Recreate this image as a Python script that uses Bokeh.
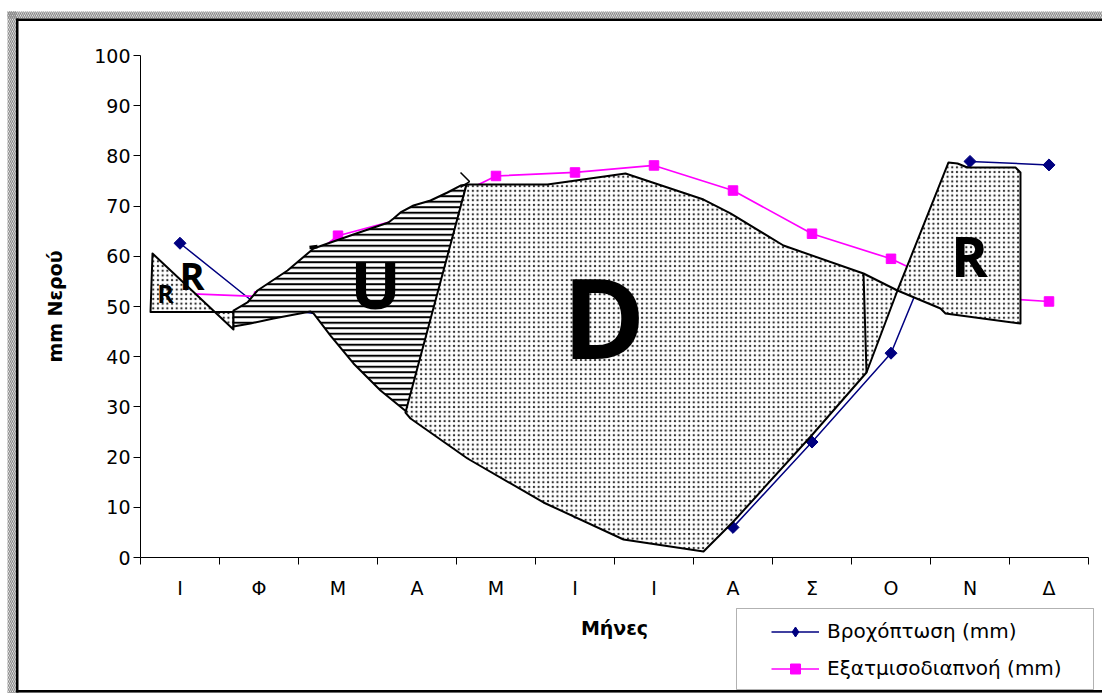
import math

from bokeh.plotting import figure
from bokeh.models import (Range1d, FixedTicker, BoxAnnotation, Legend,
                          LegendItem, Label)
from bokeh.embed import file_html
from bokeh.resources import INLINE

# Monthly water balance
months = ["Ι", "Φ", "Μ", "Α", "Μ", "Ι", "Ι", "Α", "Σ", "Ο", "Ν", "Δ"]
rain_mm = [62.6, 50.0, 48.0, 30.0, 18.0, 9.0, 4.0, 6.0, 23.0, 40.7, 78.9, 78.2]
evapo_mm = [52.6, 52.0, 64.1, 68.3, 76.0, 76.7, 78.1, 73.1, 64.5, 59.5, 52.0, 51.0]
y_ticks = list(range(0, 101, 10))

# Water-balance zones: x in months counted from the start of January, y in mm
r_left_x = [0.152, 0.127, 1.177, 1.177]
r_left_y = [60.56, 48.90, 48.90, 45.42]

u_x = [1.177, 1.354, 1.481, 1.861, 2.190, 2.658, 3.139, 3.203, 3.291, 3.456,
       3.671, 3.886, 4.051, 4.127, 3.380, 3.038, 2.696, 2.405, 2.190, 2.152,
       1.684, 1.392, 1.177]
u_y = [49.20, 50.80, 53.19, 57.17, 61.55, 64.14, 66.73, 67.53, 68.73, 70.12,
       71.12, 72.71, 74.10, 74.30, 28.88, 33.27, 38.65, 44.22, 48.61, 49.00,
       47.61, 46.61, 46.02]

d_x = [4.127, 5.152, 6.139, 7.127, 7.468, 8.139, 9.152, 9.582, 9.190, 8.506,
       7.506, 7.127, 6.114, 5.101, 4.139, 3.418, 3.354]
d_y = [74.30, 74.30, 76.49, 71.31, 68.53, 62.15, 56.57, 53.19, 36.85, 24.50,
       7.17, 1.20, 3.59, 10.96, 19.72, 27.69, 28.88]

r_right_x = [10.228, 10.342, 10.468, 11.076, 11.139, 11.139, 10.190, 10.127, 9.582]
r_right_y = [78.69, 78.49, 77.69, 77.69, 76.69, 46.61, 48.61, 49.60, 53.19]

d_split_x = [9.152, 9.190]
d_split_y = [56.57, 36.85]

arrow_x = [4.051, 4.165, 4.051]
arrow_y = [76.69, 74.90, 73.71]

nick_x = [2.139, 2.241]
nick_y = [61.75, 61.95]

zone_labels = ["R", "R", "U", "D", "R"]
zone_label_x = [0.316, 0.652, 2.975, 5.867, 10.494]
zone_label_y = [52.6, 56.2, 54.6, 48.2, 60.3]
zone_label_size = ["25px", "38px", "67px", "112px", "56px"]

W, H = 1102, 693
AXIS_FONT = "DejaVu Sans"

# The frame spans the whole canvas; the axes sit at fixed data locations.
PX_X = 79.0     # pixels per month
PX_Y = 5.02     # pixels per mm
LEFT, RIGHT, TOP, BOTTOM = 140, 14, 55, 136

p = figure(width=W, height=H, output_backend="svg", toolbar_location=None,
           x_range=Range1d(-LEFT / PX_X, 12 + RIGHT / PX_X),
           y_range=Range1d(-BOTTOM / PX_Y, 100 + TOP / PX_Y),
           min_border=0,
           background_fill_color="white", border_fill_color="white")
p.outline_line_color = None
p.grid.visible = False


def canvas_box(left, right, top, bottom, level="underlay", **style):
    return BoxAnnotation(left=left, right=right, top=top, bottom=bottom,
                         left_units="canvas", right_units="canvas",
                         top_units="canvas", bottom_units="canvas",
                         line_alpha=0, level=level, **style)


# chart-area frame: hatched grey band outside a black edge
band = dict(fill_alpha=0, hatch_pattern="left_diagonal_line", hatch_scale=4,
            hatch_weight=1.3, hatch_color="#8a8a8a")
edge = dict(fill_color="black", fill_alpha=1)
p.add_layout(canvas_box(7, W, 11, 18, **band))
p.add_layout(canvas_box(7, 16, 11, H, **band))
p.add_layout(canvas_box(7, W, 692, H, **band))
p.add_layout(canvas_box(16, W, 18, 20.5, **edge))
p.add_layout(canvas_box(15.5, 18, 18, 692, **edge))
p.add_layout(canvas_box(16, W, 689.5, 692, **edge))

# axes
mid = [i + 0.5 for i in range(12)]
xax = p.xaxis[0]
xax.fixed_location = 0
xax.bounds = (0, 12)
xax.ticker = FixedTicker(ticks=mid, minor_ticks=list(range(13)))
xax.major_label_overrides = {m: lab for m, lab in zip(mid, months)}
xax.major_tick_out = 0
xax.major_tick_in = 0
xax.minor_tick_out = 7
xax.minor_tick_in = 0
xax.major_label_standoff = 12
xax.axis_label = "Μήνες"
xax.axis_label_standoff = 15

yax = p.yaxis[0]
yax.fixed_location = 0
yax.bounds = (0, 100)
yax.ticker = FixedTicker(ticks=y_ticks)
yax.major_tick_out = 7
yax.major_tick_in = 0
yax.minor_tick_out = 0
yax.minor_tick_in = 0
yax.major_label_standoff = 3
yax.axis_label = "mm Νερού"
yax.axis_label_standoff = 25

for ax in (xax, yax):
    ax.axis_line_color = "black"
    ax.axis_line_width = 1
    ax.major_tick_line_color = "black"
    ax.minor_tick_line_color = "black"
    ax.major_label_text_font = AXIS_FONT
    ax.major_label_text_font_size = "19px"
    ax.major_label_text_color = "black"
    ax.axis_label_text_font = AXIS_FONT
    ax.axis_label_text_font_size = "19px"
    ax.axis_label_text_font_style = "bold"
    ax.axis_label_text_color = "black"

# series
rain_line = p.line(mid, rain_mm, line_color="#000080", line_width=1.5)
rain_pts = p.scatter(mid, rain_mm, marker="square", angle=math.pi / 4,
                     size=8.5, fill_color="#000080", line_color="#000080")
evapo_line = p.line(mid, evapo_mm, line_color="#ff00ff", line_width=1.7)
evapo_pts = p.scatter(mid, evapo_mm, marker="square", size=9.5,
                      fill_color="#ff00ff", line_color="#ff00ff")
# diamond swatch for the legend (legend markers are drawn unrotated);
# zero size, so it adds nothing to the plot itself
rain_key = p.scatter(mid, rain_mm, marker="diamond", size=0,
                     fill_color="#000080", line_color="#000080")

# zones drawn over the series
dots = dict(fill_color="white", hatch_pattern="dot", hatch_scale=4.7,
            hatch_color="#333333", hatch_weight=1,
            line_color="black", line_width=2, line_join="round")
p.patch(r_left_x, r_left_y, **dots)
p.patch(u_x, u_y, fill_color="white", hatch_pattern="horizontal_line",
        hatch_scale=5.5, hatch_weight=2, hatch_color="black",
        line_color="black", line_width=2, line_join="round")
p.patch(d_x, d_y, **dots)
p.patch(r_right_x, r_right_y, **dots)
p.line(d_split_x, d_split_y, line_color="black", line_width=2)
p.line(arrow_x, arrow_y, line_color="black", line_width=1.5)
p.line(nick_x, nick_y, line_color="black", line_width=3.5)

for lab, lx, ly, fs in zip(zone_labels, zone_label_x, zone_label_y, zone_label_size):
    p.add_layout(Label(x=lx, y=ly, text=lab, text_align="center",
                       text_baseline="middle", text_font="Open Sans",
                       text_font_style="bold", text_font_size=fs,
                       text_color="black"))

# keep the strip right of the legend box clean
p.add_layout(canvas_box(1094.5, W + 5, 21, 689, level="overlay",
                        fill_color="white", fill_alpha=1))

# legend box and legend
p.add_layout(BoxAnnotation(left=736, right=1093, top=608, bottom=689,
                           left_units="canvas", right_units="canvas",
                           top_units="canvas", bottom_units="canvas",
                           fill_color="white", fill_alpha=1,
                           line_color="black", line_width=1))
legend = Legend(items=[LegendItem(label="Βροχόπτωση (mm)", renderers=[rain_line, rain_key]),
                       LegendItem(label="Εξατμισοδιαπνοή (mm)", renderers=[evapo_line, evapo_pts])],
                location=(771, H - 680.5), padding=0, margin=0,
                border_line_alpha=0, background_fill_alpha=0,
                glyph_width=48, glyph_height=25, label_height=25,
                spacing=12, label_standoff=8,
                label_text_font=AXIS_FONT, label_text_font_size="20px",
                label_text_color="black")
p.add_layout(legend)

open("out.html", "w").write(file_html(p, INLINE))
